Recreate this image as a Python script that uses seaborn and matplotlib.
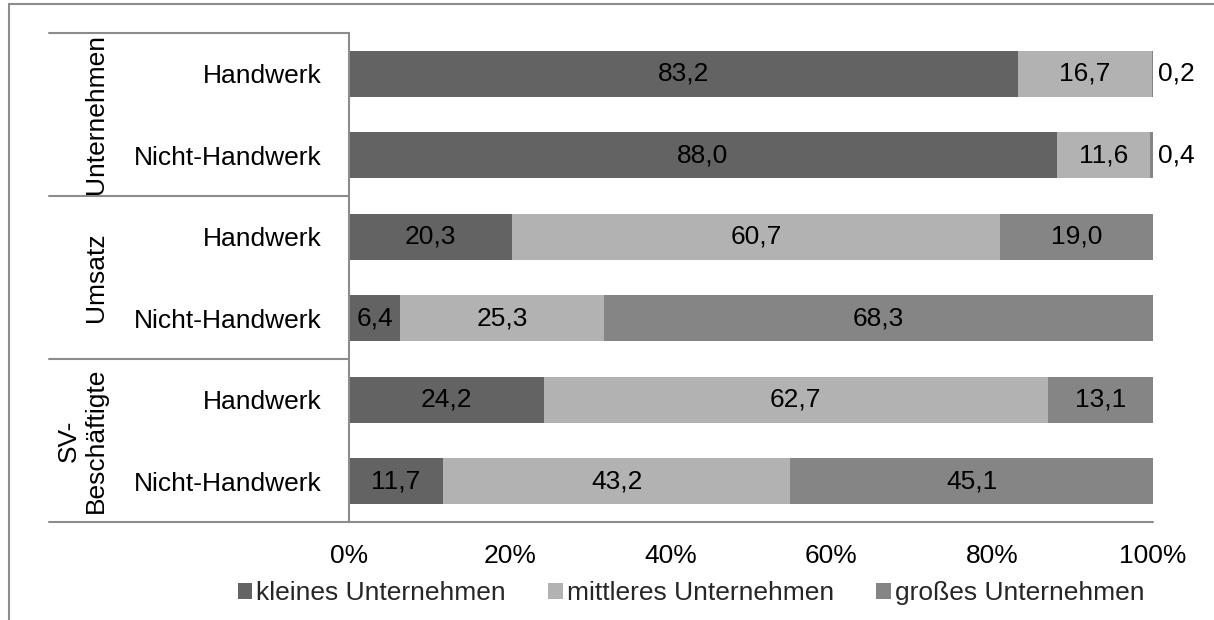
import pandas as pd
import matplotlib.pyplot as plt
import seaborn as sns
from matplotlib.patches import Rectangle, Patch

# ------------------------------
# Data
# ------------------------------
groups = ["Unternehmen", "Unternehmen", "Umsatz", "Umsatz", "SV-\nBeschäftigte", "SV-\nBeschäftigte"]
categories = ["Handwerk", "Nicht-Handwerk", "Handwerk", "Nicht-Handwerk", "Handwerk", "Nicht-Handwerk"]
kleines = [83.2, 88.0, 20.3, 6.4, 24.2, 11.7]
mittleres = [16.7, 11.6, 60.7, 25.3, 62.7, 43.2]
grosses = [0.2, 0.4, 19.0, 68.3, 13.1, 45.1]
series_names = ["kleines Unternehmen", "mittleres Unternehmen", "großes Unternehmen"]
colors = ["#636363", "#b2b2b2", "#858585"]
xticks = [0, 20, 40, 60, 80, 100]

df = pd.DataFrame({"group": groups, "cat": categories,
                   "klein": kleines, "mittel": mittleres, "gross": grosses})
df["row"] = [f"{g}|{c}|{i}" for i, (g, c) in enumerate(zip(groups, categories))]
df["c1"] = df["klein"]
df["c2"] = df["klein"] + df["mittel"]
df["c3"] = df["c2"] + df["gross"]

# ------------------------------
# Plotting
# ------------------------------
sns.set_theme(style="white")
plt.rcParams["font.family"] = ["Liberation Sans", "DejaVu Sans"]
FS = 19

fig = plt.figure(figsize=(12.14, 6.2), dpi=100)
ax = fig.add_axes([349 / 1214, 1 - 522 / 620, 804 / 1214, 489 / 620])

# stacked bars: draw cumulative sums, biggest first
for col, color in zip(["c3", "c2", "c1"], colors[::-1]):
    sns.barplot(data=df, y="row", x=col, color=color, width=0.56,
                order=df["row"], ax=ax, saturation=1, edgecolor="none")

ax.set_xlim(0, 100)
ax.set_ylim(5.5, -0.5)
ax.set_xlabel("")
ax.set_ylabel("")
ax.set_xticks(xticks)
ax.set_xticklabels([f"{t}%" for t in xticks], fontsize=FS, color="black")
ax.set_yticks(range(len(categories)))
ax.set_yticklabels(categories, fontsize=FS, color="black")
ax.tick_params(axis="y", length=0, pad=20)
ax.tick_params(axis="x", length=0, pad=16)
for s in ["top", "right", "bottom"]:
    ax.spines[s].set_visible(False)
ax.spines["left"].set_color("#8c8c8c")
ax.spines["left"].set_linewidth(1.5)

# value labels
for i, r in df.iterrows():
    starts = [0, r["c1"], r["c2"]]
    vals = [r["klein"], r["mittel"], r["gross"]]
    for s, v in zip(starts, vals):
        txt = f"{v:.1f}".replace(".", ",")
        if v >= 3:
            ax.text(s + v / 2, i, txt, ha="center", va="center", fontsize=FS, color="black")
        else:
            ax.text(100.6, i, txt, ha="left", va="center", fontsize=FS, color="black")

# group table lines and labels
tr = ax.get_yaxis_transform()
left = (49 - 349) / 804
for y in [-0.5, 1.5, 3.5]:
    ax.plot([left, 0], [y, y], transform=tr, color="#8c8c8c", lw=1.5, clip_on=False)
ax.plot([left, 1], [5.5, 5.5], transform=tr, color="#8c8c8c", lw=1.5, clip_on=False)
for g, yc in zip(["Unternehmen", "Umsatz", "SV-\nBeschäftigte"], [0.5, 2.5, 4.5]):
    ax.text((108 - 349) / 804, yc, g, rotation=90, ha="right", va="center",
            multialignment="center", fontsize=FS, color="black", transform=tr,
            linespacing=1.15)

# legend
handles = [Patch(facecolor=c, edgecolor="none") for c in colors]
fig.legend(handles, series_names, loc="center", bbox_to_anchor=(691 / 1214, 1 - 593 / 620),
           ncol=3, frameon=False, fontsize=FS, handlelength=0.55, handleheight=0.55,
           handletextpad=0.15, columnspacing=1.6, borderaxespad=0)

# outer chart border
fig.patches.append(Rectangle((9 / 1214, -0.1), 1.2, 1 - 4 / 620 + 0.1, transform=fig.transFigure,
                             fill=False, edgecolor="#8c8c8c", lw=1.5))

plt.savefig("out.png", dpi=100)
